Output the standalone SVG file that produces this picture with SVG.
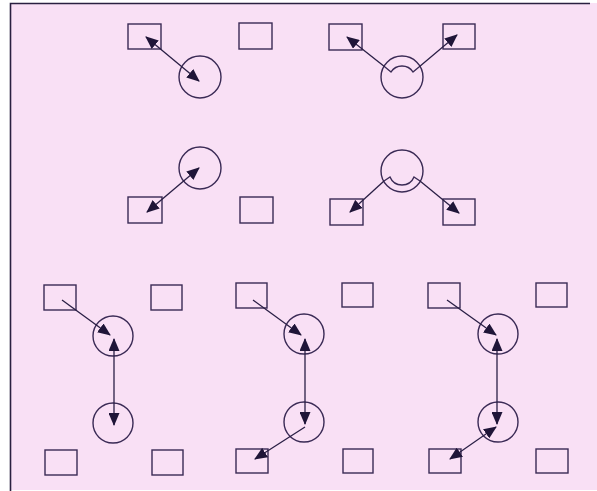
<svg xmlns="http://www.w3.org/2000/svg" width="597" height="491" viewBox="0 0 597 491">
<defs>
<marker id="ah" markerUnits="userSpaceOnUse" markerWidth="13" markerHeight="11" refX="12" refY="5.5" orient="auto-start-reverse" viewBox="0 0 13 11">
<path d="M0,0 L13,5.5 L0,11 Z" fill="#1f1538"/>
</marker>
</defs>
<style>
.n{fill:none;stroke:#3a2a55;stroke-width:1.4}
.c{fill:none;stroke:#2a1f45;stroke-width:1.3}
.e{marker-end:url(#ah)}
.b{marker-start:url(#ah);marker-end:url(#ah)}
</style>
<rect x="0" y="0" width="597" height="491" fill="#ffffff"/>
<rect x="10" y="3" width="587" height="487" fill="#f9e0f5"/>
<path d="M10.5,491 V3.5 H590" fill="none" stroke="#2a2040" stroke-width="1.6"/>

<g id="r1"><rect class="n" x="128" y="24" width="33" height="25"/></g>
<g id="r2"><rect class="n" x="239" y="23" width="33" height="26"/></g>
<g id="c1"><circle class="n" cx="200" cy="77" r="21"/></g>
<g id="c2"><circle class="n" cx="200" cy="168" r="21"/></g>
<g id="r3"><rect class="n" x="128" y="197" width="34" height="26"/></g>
<g id="r4"><rect class="n" x="240" y="197" width="33" height="26"/></g>

<g id="r5"><rect class="n" x="329" y="24" width="33" height="26"/></g>
<g id="r6"><rect class="n" x="443" y="24" width="32" height="25"/></g>
<g id="c3"><circle class="n" cx="402" cy="77" r="21"/><path class="n" d="M385,67 L391,72 A13,13 0 0 1 413,72 L419,67"/></g>
<g id="c4"><circle class="n" cx="402" cy="171" r="21"/><path class="n" d="M384,181 L390,177 A13,13 0 0 0 414,177 L420,181"/></g>
<g id="r7"><rect class="n" x="330" y="199" width="33" height="26"/></g>
<g id="r8"><rect class="n" x="443" y="199" width="32" height="26"/></g>

<g id="r9"><rect class="n" x="44" y="285" width="32" height="25"/></g>
<g id="r10"><rect class="n" x="151" y="285" width="31" height="25"/></g>
<g id="c5"><circle class="n" cx="113" cy="336" r="20"/></g>
<g id="c6"><circle class="n" cx="113" cy="423" r="20"/></g>
<g id="r11"><rect class="n" x="45" y="450" width="32" height="25"/></g>
<g id="r12"><rect class="n" x="152" y="450" width="31" height="25"/></g>

<g id="r13"><rect class="n" x="236" y="283" width="31" height="25"/></g>
<g id="r14"><rect class="n" x="342" y="283" width="31" height="24"/></g>
<g id="c7"><circle class="n" cx="304" cy="334" r="20"/></g>
<g id="c8"><circle class="n" cx="304" cy="422" r="20"/></g>
<g id="r15"><rect class="n" x="236" y="449" width="32" height="24"/></g>
<g id="r16"><rect class="n" x="343" y="449" width="30" height="24"/></g>

<g id="r17"><rect class="n" x="428" y="283" width="32" height="25"/></g>
<g id="r18"><rect class="n" x="536" y="283" width="31" height="24"/></g>
<g id="c9"><circle class="n" cx="498" cy="334" r="20"/></g>
<g id="c10"><circle class="n" cx="498" cy="422" r="20"/></g>
<g id="r19"><rect class="n" x="429" y="449" width="32" height="24"/></g>
<g id="r20"><rect class="n" x="536" y="449" width="32" height="24"/></g>

<g id="connectors">
<line class="c b" x1="146" y1="37" x2="199" y2="81"/>
<line class="c b" x1="199" y1="168" x2="147" y2="212"/>
<line class="c e" x1="385" y1="67" x2="347" y2="37"/>
<line class="c e" x1="419" y1="67" x2="457" y2="35"/>
<line class="c e" x1="384" y1="181" x2="350" y2="212"/>
<line class="c e" x1="420" y1="181" x2="459" y2="213"/>

<line class="c e" x1="62" y1="300" x2="110" y2="335"/>
<line class="c b" x1="114" y1="339" x2="114" y2="425"/>

<line class="c e" x1="253" y1="300" x2="301" y2="335"/>
<line class="c b" x1="305" y1="339" x2="305" y2="424"/>
<line class="c e" x1="305" y1="427" x2="255" y2="459"/>

<line class="c e" x1="447" y1="300" x2="496" y2="335"/>
<line class="c b" x1="497" y1="339" x2="497" y2="424"/>
<line class="c b" x1="450" y1="459" x2="496" y2="427"/>
</g>
</svg>
